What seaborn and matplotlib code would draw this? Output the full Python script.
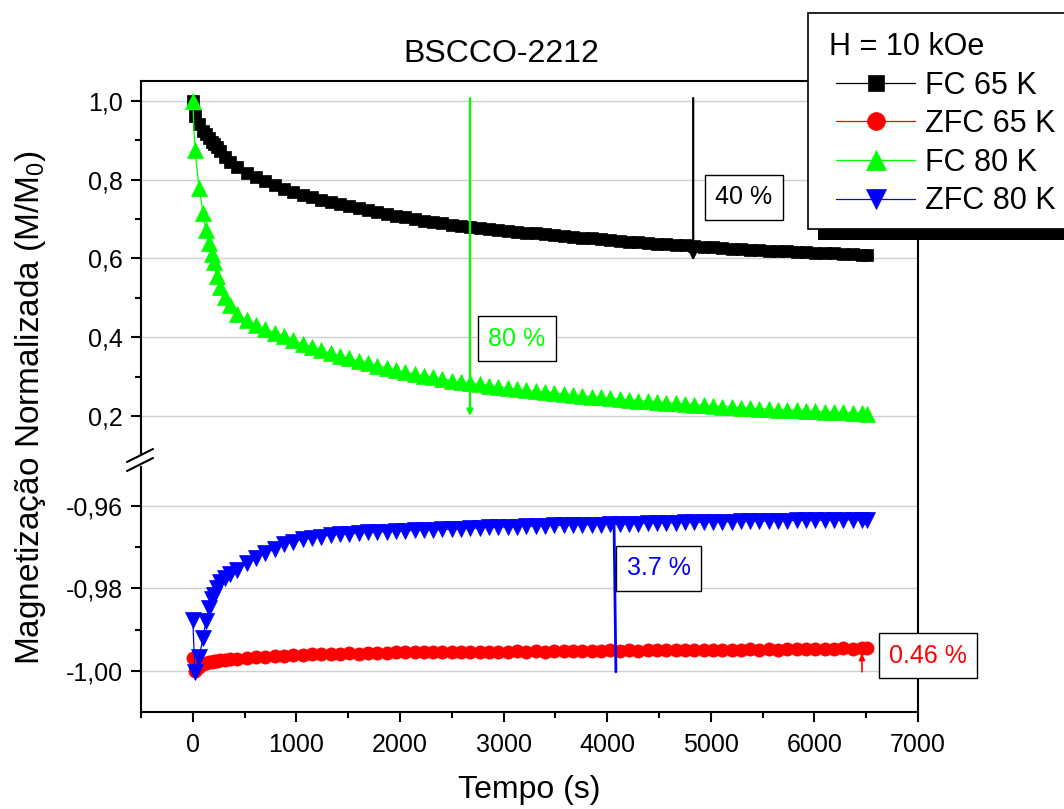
import numpy as np
import pandas as pd
import matplotlib
matplotlib.use("Agg")
import matplotlib.pyplot as plt
import seaborn as sns
from matplotlib.ticker import MultipleLocator, FuncFormatter
from matplotlib.lines import Line2D
from matplotlib.patches import Rectangle

# ---------------- data ----------------
tempo = [0, 20, 60, 100, 125, 155, 185, 200, 230, 260, 310, 360,
         430, 520, 610, 700, 790, 880, 970, 1060, 1150, 1240,
         1330, 1420, 1510, 1600, 1690, 1780, 1870, 1960, 2050, 2140,
         2230, 2320, 2410, 2500, 2590, 2680, 2770, 2860, 2950, 3040,
         3130, 3220, 3310, 3400, 3490, 3580, 3670, 3760, 3850, 3940,
         4030, 4120, 4210, 4300, 4390, 4480, 4570, 4660, 4750, 4840,
         4930, 5020, 5110, 5200, 5290, 5380, 5470, 5560, 5650, 5740,
         5830, 5920, 6010, 6100, 6190, 6280, 6370, 6460, 6510]

fc_65 = [1.000, 0.962, 0.942, 0.925, 0.915, 0.905, 0.896, 0.891, 0.882, 0.873, 0.858, 0.845,
         0.832, 0.818, 0.806, 0.796, 0.786, 0.777, 0.769, 0.762, 0.755, 0.749,
         0.744, 0.738, 0.733, 0.728, 0.723, 0.718, 0.713, 0.709, 0.705, 0.700,
         0.696, 0.692, 0.689, 0.686, 0.683, 0.681, 0.678, 0.676, 0.673, 0.671,
         0.668, 0.666, 0.664, 0.662, 0.660, 0.657, 0.655, 0.653, 0.651, 0.649,
         0.647, 0.645, 0.643, 0.641, 0.640, 0.638, 0.636, 0.635, 0.633, 0.632,
         0.630, 0.628, 0.627, 0.625, 0.623, 0.622, 0.621, 0.620, 0.619, 0.618,
         0.617, 0.616, 0.615, 0.614, 0.613, 0.612, 0.611, 0.610, 0.610]

fc_80 = [1.000, 0.876, 0.780, 0.715, 0.672, 0.640, 0.612, 0.590, 0.556, 0.528, 0.502, 0.482,
         0.460, 0.443, 0.430, 0.420, 0.411, 0.403, 0.392, 0.383, 0.375, 0.367,
         0.360, 0.353, 0.346, 0.340, 0.334, 0.328, 0.322, 0.316, 0.311, 0.306,
         0.302, 0.298, 0.294, 0.290, 0.286, 0.283, 0.280, 0.277, 0.274, 0.271,
         0.268, 0.265, 0.263, 0.260, 0.258, 0.255, 0.253, 0.251, 0.249, 0.247,
         0.245, 0.243, 0.241, 0.239, 0.237, 0.235, 0.234, 0.232, 0.230, 0.229,
         0.227, 0.226, 0.224, 0.223, 0.221, 0.220, 0.219, 0.217, 0.216, 0.215,
         0.214, 0.213, 0.212, 0.211, 0.210, 0.209, 0.208, 0.207, 0.206]

zfc_80 = [-0.9876, -1.0002, -0.9966, -0.9920, -0.9880, -0.9848, -0.9826, -0.9815, -0.9800, -0.9785, -0.9775, -0.9765,
          -0.9755, -0.9738, -0.9725, -0.9713, -0.9705, -0.9692, -0.9687, -0.9681, -0.9677, -0.9674,
          -0.9670, -0.9668, -0.9667, -0.9666, -0.9664, -0.9663, -0.9662, -0.9661, -0.9660, -0.9659,
          -0.9659, -0.9658, -0.9657, -0.9656, -0.9655, -0.9654, -0.9653, -0.9652, -0.9651, -0.9651,
          -0.9650, -0.9649, -0.9649, -0.9648, -0.9647, -0.9647, -0.9646, -0.9646, -0.9645, -0.9645,
          -0.9644, -0.9644, -0.9643, -0.9643, -0.9642, -0.9642, -0.9641, -0.9641, -0.9640, -0.9640,
          -0.9639, -0.9639, -0.9638, -0.9638, -0.9637, -0.9637, -0.9637, -0.9636, -0.9636, -0.9636,
          -0.9635, -0.9635, -0.9635, -0.9634, -0.9634, -0.9634, -0.9633, -0.9633, -0.9633]

zfc_65 = [-0.9968, -1.0000, -0.9990, -0.9984, -0.9981, -0.9979, -0.9977, -0.9976, -0.9975, -0.9974, -0.9973, -0.9972,
          -0.9971, -0.9969, -0.9967, -0.9965, -0.9964, -0.9963, -0.9962, -0.9961, -0.9960, -0.9959,
          -0.9959, -0.9958, -0.9957, -0.9958, -0.9957, -0.9956, -0.9956, -0.9955, -0.9955, -0.9955,
          -0.9954, -0.9955, -0.9954, -0.9954, -0.9953, -0.9954, -0.9953, -0.9953, -0.9954, -0.9953,
          -0.9952, -0.9953, -0.9952, -0.9953, -0.9952, -0.9951, -0.9952, -0.9951, -0.9952, -0.9951,
          -0.9950, -0.9951, -0.9950, -0.9951, -0.9950, -0.9949, -0.9950, -0.9949, -0.9950, -0.9949,
          -0.9948, -0.9949, -0.9948, -0.9949, -0.9948, -0.9947, -0.9948, -0.9947, -0.9948, -0.9947,
          -0.9946, -0.9947, -0.9946, -0.9947, -0.9946, -0.9945, -0.9946, -0.9945, -0.9945]

series_labels = ["FC 65 K", "ZFC 65 K", "FC 80 K", "ZFC 80 K"]
legend_title = "H = 10 kOe"
title = "BSCCO-2212"
xlabel = "Tempo (s)"
ylabel = "Magnetização Normalizada (M/M$_0$)"

# annotations: label, text position (t, M/M0), arrow tail, arrow head
annot_labels = ["40 %", "80 %", "3.7 %", "0.46 %"]
annot_text_pos = [(5320, 0.756), (3128, 0.3956), (4499, -0.9751), (7097, -0.99636)]
annot_arrow_from = [(4830, 1.0075), (2675, 1.0075), (4084, -1.0002), (6459, -1.0002)]
annot_arrow_to = [(4830, 0.595), (2675, 0.200), (4065, -0.9622), (6459, -0.9958)]

df = pd.DataFrame({"tempo": tempo, "fc_65": fc_65, "zfc_65": zfc_65,
                   "fc_80": fc_80, "zfc_80": zfc_80})

# ---------------- style ----------------
sns.set_style("ticks")
plt.rcParams["font.family"] = ["Liberation Sans", "DejaVu Sans"]
plt.rcParams["mathtext.fontset"] = "custom"
plt.rcParams["mathtext.rm"] = "Liberation Sans"
plt.rcParams["mathtext.it"] = "Liberation Sans:italic"
plt.rcParams["text.color"] = "black"
plt.rcParams["axes.labelcolor"] = "black"

W, H = 1064, 809
fig = plt.figure(figsize=(W / 100, H / 100), dpi=100)

L = 141 / W
R = 918 / W
top_y0, top_y1 = 455, 81
bot_y0, bot_y1 = 712, 467
ax_top = fig.add_axes([L, 1 - top_y0 / H, R - L, (top_y0 - top_y1) / H])
ax_bot = fig.add_axes([L, 1 - bot_y0 / H, R - L, (bot_y0 - bot_y1) / H], sharex=ax_top)

BLACK, RED, GREEN, BLUE = "#000000", "#ff0000", "#00ff00", "#0000ff"

common = dict(linewidth=0.9, errorbar=None, legend=False)
sns.lineplot(data=df, x="tempo", y="fc_65", ax=ax_top, color=BLACK, marker="s",
             markersize=9, markeredgecolor=BLACK, markeredgewidth=0.5,
             label=series_labels[0], **common)
sns.lineplot(data=df, x="tempo", y="fc_80", ax=ax_top, color=GREEN, marker="^",
             markersize=11, markeredgecolor=GREEN, markeredgewidth=0.5,
             label=series_labels[2], **common)
sns.lineplot(data=df, x="tempo", y="zfc_65", ax=ax_bot, color=RED, marker="o",
             markersize=9.5, markeredgecolor=RED, markeredgewidth=0.5,
             label=series_labels[1], **common)
sns.lineplot(data=df, x="tempo", y="zfc_80", ax=ax_bot, color=BLUE, marker="v",
             markersize=11, markeredgecolor=BLUE, markeredgewidth=0.5,
             label=series_labels[3], **common)

# ---------------- axes ----------------
ax_top.set_xlim(-500, 7000)
ax_top.set_ylim(0.1009, 1.0508)
ax_bot.set_ylim(-1.00994, -0.95055)

dec1 = FuncFormatter(lambda v, p: f"{v:.1f}".replace(".", ","))
dec2 = FuncFormatter(lambda v, p: f"{v:.2f}".replace(".", ","))
ax_top.yaxis.set_major_locator(MultipleLocator(0.2))
ax_top.yaxis.set_minor_locator(MultipleLocator(0.1))
ax_top.yaxis.set_major_formatter(dec1)
ax_bot.yaxis.set_major_locator(MultipleLocator(0.02))
ax_bot.yaxis.set_minor_locator(MultipleLocator(0.01))
ax_bot.yaxis.set_major_formatter(dec2)
ax_bot.xaxis.set_major_locator(MultipleLocator(1000))
ax_bot.xaxis.set_minor_locator(MultipleLocator(500))
ax_bot.xaxis.set_major_formatter(FuncFormatter(lambda v, p: f"{v:.0f}"))

for ax in (ax_top, ax_bot):
    ax.set_xlabel("")
    ax.set_ylabel("")
    ax.set_axisbelow(True)
    ax.yaxis.grid(True, color="#d0d0d0", linewidth=1.0)
    ax.xaxis.grid(False)
    for s in ax.spines.values():
        s.set_linewidth(1.5)
        s.set_color("black")
    ax.spines["right"].set_visible(True)
    ax.tick_params(axis="both", which="major", direction="out", length=7, width=1.5,
                   labelsize=18, colors="black")
    ax.tick_params(axis="both", which="minor", direction="out", length=4, width=1.5,
                   colors="black")
    ax.tick_params(axis="y", which="major", pad=6)
    ax.tick_params(axis="x", which="major", pad=8)

ax_top.spines["top"].set_visible(True)
ax_top.spines["bottom"].set_visible(False)
ax_top.tick_params(axis="x", which="both", bottom=False, labelbottom=False)
ax_bot.spines["top"].set_visible(False)

# right spine bridge across the break
fig.add_artist(Line2D([R, R], [1 - top_y0 / H, 1 - bot_y1 / H], color="black", lw=1.5))
# break marks on the left spine
fig.add_artist(Line2D([127 / W, 153 / W], [1 - 462 / H, 1 - 449 / H], color="black", lw=1.5))
fig.add_artist(Line2D([127 / W, 153 / W], [1 - 471 / H, 1 - 458 / H], color="black", lw=1.5))

# ---------------- annotations ----------------
annot_axes = [ax_top, ax_top, ax_bot, ax_bot]
annot_colors = [BLACK, GREEN, BLUE, RED]
annot_lw = [1.6, 1.6, 2.0, 1.2]
for a, lab, tp, af, at, c, lw in zip(annot_axes, annot_labels, annot_text_pos,
                                     annot_arrow_from, annot_arrow_to, annot_colors, annot_lw):
    a.annotate("", xy=at, xytext=af,
               arrowprops=dict(arrowstyle="-|>", color=c, lw=lw, mutation_scale=9,
                               shrinkA=0, shrinkB=0), zorder=6)
    a.text(tp[0], tp[1], lab, color=c, fontsize=18, ha="center", va="center",
           clip_on=False, zorder=7,
           bbox=dict(boxstyle="square,pad=0.42", fc="white", ec="black", lw=1.0))

# ---------------- texts ----------------
fig.text(501 / W, 1 - 54 / H, title, fontsize=23, ha="center", va="center", color="black")
fig.text(529 / W, 1 - 790 / H, xlabel, fontsize=23, ha="center", va="center", color="black")
fig.text(31 / W, 1 - 407 / H, ylabel, fontsize=24, ha="center", va="center",
         rotation=90, color="black")

# ---------------- legend (custom frame + shadow) ----------------
box_l, box_t, box_r, box_b = 808, 13, 1075, 229
shadow_dx, shadow_dy = 10, 11
fig.add_artist(Rectangle(((box_l + shadow_dx) / W, 1 - (box_b + shadow_dy) / H),
                         (box_r - box_l) / W, (box_b - box_t) / H, transform=fig.transFigure,
                         facecolor="black", edgecolor="none", zorder=4))
fig.add_artist(Rectangle((box_l / W, 1 - box_b / H), (box_r - box_l) / W, (box_b - box_t) / H,
                         transform=fig.transFigure, facecolor="white", edgecolor="black",
                         linewidth=1.2, zorder=4.5))

h1, l1 = ax_top.get_legend_handles_labels()
h2, l2 = ax_bot.get_legend_handles_labels()
hd = dict(zip(l1 + l2, h1 + h2))
handles = [hd[l] for l in series_labels]
leg = fig.legend(handles, series_labels, loc="upper left",
                 bbox_to_anchor=(836 / W, 1 - 32 / H), bbox_transform=fig.transFigure,
                 title=legend_title, fontsize=22, title_fontsize=22, frameon=False,
                 borderaxespad=0, borderpad=0, handlelength=2.6, handletextpad=0.3,
                 labelspacing=0.28, markerscale=1.35, alignment="left")
leg.set_zorder(5)
# the reference's title sits slightly left of the handles
leg.get_title().set_position((-7, 0))

fig.savefig("out.png", dpi=100)
